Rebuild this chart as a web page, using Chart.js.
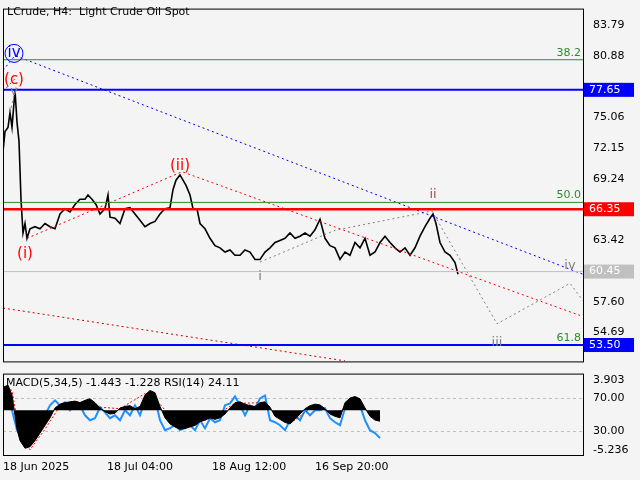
<!DOCTYPE html>
<html>
<head>
<meta charset="utf-8">
<script src="https://cdn.jsdelivr.net/npm/chart.js@4"></script>
<style>
  body { margin: 0; background: #f4f4f4; }
  #wrap { position: relative; width: 640px; height: 480px; }
  #priceBox { position: absolute; left: 0; top: 0; width: 640px; height: 370px; }
  #indBox { position: absolute; left: 0; top: 365px; width: 640px; height: 115px; }
</style>
</head>
<body>
<div id="wrap">
  <div id="priceBox"><canvas id="priceChart"></canvas></div>
  <div id="indBox"><canvas id="indChart"></canvas></div>
</div>
<script>
const FONT = '"DejaVu Sans", sans-serif'

// price path (bar position, close)
const priceX = [3,5,8,10,12,15,17,19,21,23,25,27,30,35,40,45,50,55,60,65,70,75,80,85,88,92,96,100,105,108,110,115,120,125,130,135,140,145,150,155,160,165,170,173,176,180,183,186,190,193,197,200,205,210,215,220,225,230,235,240,245,250,255,260,265,270,275,280,285,290,295,300,305,310,315,320,325,330,335,340,345,350,355,360,365,370,375,380,385,390,395,400,405,410,415,420,425,430,433,436,440,445,450,455,458]
const priceY = [71.8,73.7,74.1,75.5,74.1,77.6,74.6,72.8,67.3,64.1,65.0,63.6,64.5,64.7,64.5,65.0,64.7,64.5,65.9,66.4,66.1,66.8,67.3,67.3,67.7,67.3,66.8,65.9,66.4,67.7,65.6,65.5,65.0,66.4,66.5,65.9,65.3,64.7,65.0,65.2,65.9,66.4,66.5,68.2,69.1,69.6,69.1,68.6,67.7,66.4,66.4,65.0,64.5,63.6,62.9,62.7,62.3,62.5,62.0,62.0,62.5,62.3,61.6,61.6,62.3,62.7,63.2,63.4,63.6,64.1,63.6,63.8,64.1,63.8,64.4,65.4,63.6,62.9,62.7,61.6,62.3,62.0,63.2,62.7,63.6,62.0,62.3,63.2,63.8,63.2,62.7,62.3,62.7,62.0,62.7,63.8,64.7,65.5,65.9,65.0,63.2,62.3,62.0,61.3,60.2]

// levels
const blueLevels = [77.65, 53.50]
const redLevel = 66.35
const currentPrice = 60.45
const fibLevels = [80.5, 67.0]
const fibNames = ['38.2', '50.0', '61.8']
const fibNameAt = [80.5, 67.0, 53.5]
const priceTicks = [83.79, 80.88, 75.06, 72.15, 69.24, 63.42, 57.60, 54.69]

// trend lines
const blueTrendX = [3, 15, 583], blueTrendY = [79.5, 80.9, 60.2]
const redUpX = [3, 15], redUpY = [77.5, 78.7]
const redMidX = [27, 182, 580], redMidY = [63.6, 69.9, 56.3]
const redLowX = [3, 345], redLowY = [57.0, 52.0]
const grayVX = [10, 16], grayVY = [75.5, 77.9]
const grayWaveX = [260, 335, 432, 497, 570, 583], grayWaveY = [61.35, 64.36, 66.18, 55.5, 59.34, 57.7]

// wave labels [x, price, text, colour, size]
const waveLabels = [
  [14, 81.1, 'iv', '#0000ff', 15], [14, 78.6, '(c)', '#ff0000', 15], [14, 77.5, 'v', '#808080', 13],
  [25, 62.1, '(i)', '#ff0000', 15], [180, 70.4, '(ii)', '#ff0000', 15], [260, 60.0, 'i', '#808080', 13],
  [433, 67.7, 'ii', '#a05050', 13], [497, 53.7, 'iii', '#808080', 13], [570, 61.0, 'iv', '#808080', 13]
]

// indicator
const indX = [3,8,12,17,20,25,30,35,40,45,50,55,60,65,70,75,80,85,90,95,100,105,110,115,120,125,130,135,140,145,150,155,160,165,170,175,180,185,190,195,200,205,210,215,220,225,230,235,240,245,250,255,260,265,270,275,280,285,290,295,300,305,310,315,320,325,330,335,340,345,350,355,360,365,370,375,380]
const rsi = [61.5,67.6,55.5,31.2,25.2,27.6,33.6,37.3,43.3,49.4,61.5,67.6,61.5,65.1,55.5,63.9,61.5,49.4,43.3,45.8,59.1,53.0,45.8,49.4,43.3,55.5,49.4,61.5,49.4,67.6,76.0,70.0,43.3,31.2,33.6,37.3,31.2,33.6,37.3,31.2,43.3,33.6,45.8,40.9,43.3,61.5,63.9,72.4,61.5,49.4,61.5,57.9,70.0,73.6,43.3,40.9,37.3,31.2,43.3,49.4,43.3,55.5,49.4,55.5,55.5,57.9,45.8,40.9,37.3,57.9,67.6,67.6,61.5,43.3,31.2,27.6,21.5]
const macd = [3.0,3.3,2.0,-2.5,-4.0,-5.0,-4.8,-4.0,-3.0,-2.0,-1.0,0.3,0.8,1.0,1.1,1.2,1.0,1.3,1.5,1.0,0.3,-0.2,-0.5,-0.4,0.3,0.5,0.6,0.2,0.5,2.0,2.6,2.3,0.5,-1.0,-1.8,-2.2,-2.5,-2.4,-2.2,-2.0,-1.5,-1.3,-1.0,-1.2,-1.0,-0.5,0.3,1.0,1.1,0.8,0.6,0.5,1.0,1.1,0.4,-0.8,-1.2,-1.6,-1.8,-1.2,-0.5,0.2,0.6,0.8,0.7,0.2,-0.5,-0.8,-1.0,1.0,1.6,1.8,1.5,0.3,-0.8,-1.3,-1.44]
const signalX = [3,12,20,30,45,60,80,100,120,145,160,180,210,235,265,280,295,315,335,355,370,380]
const signal = [3.2,2.6,-3.5,-5.2,-2.5,0.6,1.1,0.4,0.2,2.2,0.8,-2.3,-1.1,0.9,1.0,-1.1,-1.3,0.7,-0.7,1.6,-0.6,-1.23]
const xTickPos = [3, 107, 212, 315]
const xTickText = ['18 Jun 2025', '18 Jul 04:00', '18 Aug 12:00', '16 Sep 20:00']

const pts = (xs, ys) => xs.map((x, i) => ({ x: x, y: ys[i] }))
const hline = v => [{ x: 3, y: v }, { x: 583, y: v }]
const dotted = (data, color) => ({ data, borderColor: color, borderWidth: 1, borderDash: [2, 3], pointRadius: 0, fill: false })

const frame = {
  id: 'frame',
  beforeDraw(c) {
    const ctx = c.ctx
    ctx.save()
    ctx.fillStyle = '#f4f4f4'
    ctx.fillRect(0, 0, c.width, c.height)
    ctx.restore()
  },
  afterDraw(c) {
    const a = c.chartArea, ctx = c.ctx
    ctx.save()
    ctx.strokeStyle = '#000'
    ctx.lineWidth = 1
    ctx.strokeRect(a.left + 0.5, a.top + 0.5, a.right - a.left, a.bottom - a.top)
    ctx.restore()
  }
}

const priceLabels = {
  id: 'priceLabels',
  afterDraw(c) {
    const ctx = c.ctx, xs = c.scales.x, ys = c.scales.y, a = c.chartArea
    ctx.save()
    ctx.font = '11px ' + FONT
    ctx.fillStyle = '#000'
    ctx.textBaseline = 'middle'
    ctx.fillText('LCrude, H4:  Light Crude Oil Spot', 7, 12)
    ctx.textAlign = 'center'
    waveLabels.forEach(l => {
      ctx.font = l[4] + 'px ' + FONT
      ctx.fillStyle = l[3]
      const px = xs.getPixelForValue(l[0]), py = ys.getPixelForValue(l[1])
      ctx.fillText(l[2], px, py)
      if (l[2] === 'iv' && l[3] === '#0000ff') {
        ctx.strokeStyle = '#0000ff'
        ctx.beginPath(); ctx.arc(px, py, 9, 0, Math.PI * 2); ctx.stroke()
      }
    })
    ctx.font = '11px ' + FONT
    ctx.fillStyle = '#2e8b2e'
    ctx.textAlign = 'right'
    fibNames.forEach((n, i) => ctx.fillText(n, a.right - 2, ys.getPixelForValue(fibNameAt[i]) - 7))
    ctx.textAlign = 'left'
    const boxes = [[blueLevels[0], '#0000ff', '#fff'], [redLevel, '#ff0000', '#fff'], [currentPrice, '#c0c0c0', '#fff'], [blueLevels[1], '#0000ff', '#fff']]
    boxes.forEach(b => {
      const py = ys.getPixelForValue(b[0])
      ctx.fillStyle = b[1]
      ctx.fillRect(a.right + 1, py - 7, 50, 14)
      ctx.fillStyle = b[2]
      ctx.fillText(b[0].toFixed(2), a.right + 6, py)
    })
    ctx.restore()
  }
}

new Chart(document.getElementById('priceChart'), {
  type: 'line',
  data: {
    datasets: [
      { data: hline(fibLevels[0]), borderColor: '#2e8b2e', borderWidth: 1, pointRadius: 0 },
      { data: hline(fibLevels[1]), borderColor: '#2e8b2e', borderWidth: 1, pointRadius: 0 },
      { data: hline(currentPrice), borderColor: '#c0c0c0', borderWidth: 1, pointRadius: 0 },
      { data: hline(blueLevels[0]), borderColor: '#0000ff', borderWidth: 2, pointRadius: 0 },
      { data: hline(blueLevels[1]), borderColor: '#0000ff', borderWidth: 2, pointRadius: 0 },
      { data: hline(redLevel), borderColor: '#ff0000', borderWidth: 2.5, pointRadius: 0 },
      dotted(pts(blueTrendX, blueTrendY), '#0000ff'),
      dotted(pts(redUpX, redUpY), '#ff0000'),
      dotted(pts(redMidX, redMidY), '#ff0000'),
      dotted(pts(redLowX, redLowY), '#cc0000'),
      dotted(pts(grayVX, grayVY), '#808080'),
      dotted(pts(grayWaveX, grayWaveY), '#808080'),
      { data: pts(priceX, priceY), borderColor: '#000', borderWidth: 1.6, pointRadius: 0, tension: 0 }
    ]
  },
  options: {
    animation: false, responsive: true, maintainAspectRatio: false,
    layout: { padding: { left: 3, top: 2, bottom: 2, right: 0 } },
    plugins: { legend: { display: false }, tooltip: { enabled: false } },
    scales: {
      x: { type: 'linear', min: 3, max: 583, display: false },
      y: {
        position: 'right', min: 51.95, max: 85.34,
        grid: { display: false, drawTicks: true },
        border: { display: false },
        afterBuildTicks: s => { s.ticks = priceTicks.map(v => ({ value: v })) },
        afterFit: s => { s.width = 57 },
        ticks: { color: '#000', font: { family: FONT, size: 11 }, padding: 2, callback: v => v.toFixed(2) }
      }
    }
  },
  plugins: [frame, priceLabels]
})

const indLabels = {
  id: 'indLabels',
  beforeDatasetsDraw(c) {
    const ctx = c.ctx, a = c.chartArea, ys = c.scales.y
    ctx.save()
    ctx.strokeStyle = '#c0c0c0'
    ctx.setLineDash([3, 3])
    ;[70, 30].forEach(v => {
      const py = Math.round(ys.getPixelForValue(v)) + 0.5
      ctx.beginPath(); ctx.moveTo(a.left, py); ctx.lineTo(a.right, py); ctx.stroke()
    })
    ctx.restore()
  },
  afterDraw(c) {
    const ctx = c.ctx
    ctx.save()
    ctx.font = '11px ' + FONT
    ctx.fillStyle = '#000'
    ctx.textBaseline = 'middle'
    ctx.fillText('MACD(5,34,5) -1.443 -1.228 RSI(14) 24.11', 6, c.chartArea.top + 10)
    ctx.restore()
  }
}

const indTickVals = [91.8, 70, 30, 7.0]
const indTickText = ['3.903', '70.00', '30.00', '-5.236']

new Chart(document.getElementById('indChart'), {
  type: 'line',
  data: {
    datasets: [
      { data: pts(indX, macd), yAxisID: 'm', borderColor: '#000', backgroundColor: '#000', borderWidth: 1, pointRadius: 0, fill: 'origin' },
      { data: pts(signalX, signal), yAxisID: 'm', borderColor: '#ff0000', borderWidth: 1, borderDash: [2, 2], pointRadius: 0, fill: false },
      { data: pts(indX, rsi), yAxisID: 'y', borderColor: '#1e90ff', borderWidth: 2, pointRadius: 0, fill: false }
    ]
  },
  options: {
    animation: false, responsive: true, maintainAspectRatio: false,
    layout: { padding: { left: 3, top: 3, bottom: 0, right: 0 } },
    plugins: { legend: { display: false }, tooltip: { enabled: false } },
    scales: {
      x: {
        type: 'linear', min: 3, max: 583,
        grid: { display: false, drawTicks: true, tickLength: 4, color: '#000' },
        border: { display: false },
        afterBuildTicks: s => { s.ticks = xTickPos.map(v => ({ value: v })) },
        afterFit: s => { s.height = 25 },
        ticks: {
          color: '#000', font: { family: FONT, size: 11 }, maxRotation: 0, align: 'start', padding: 2,
          callback: (v, i) => xTickText[i]
        }
      },
      y: {
        position: 'right', min: 0.9, max: 100.3,
        grid: { display: false },
        border: { display: false },
        afterBuildTicks: s => { s.ticks = indTickVals.map(v => ({ value: v })) },
        afterFit: s => { s.width = 57 },
        ticks: { color: '#000', font: { family: FONT, size: 11 }, padding: 2, callback: (v, i) => indTickText[i] }
      },
      m: { display: false, min: -5.89, max: 4.82 }
    }
  },
  plugins: [frame, indLabels]
})
</script>
</body>
</html>
